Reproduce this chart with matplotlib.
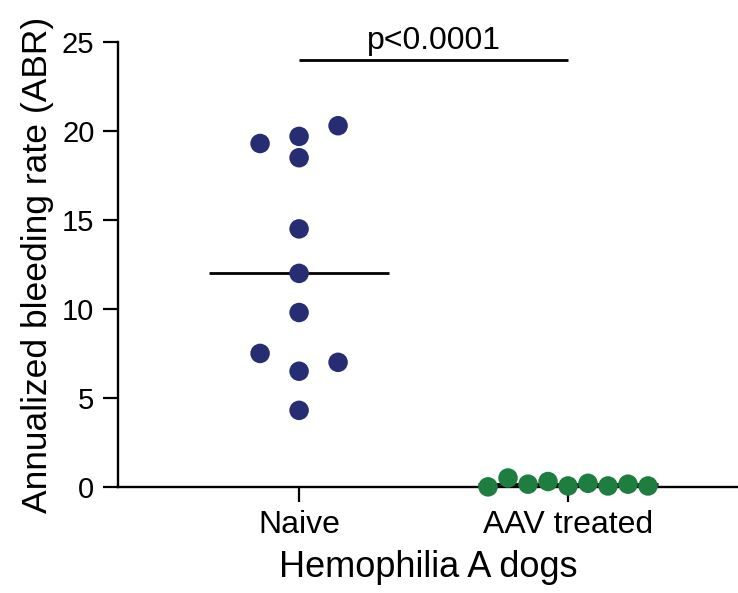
import numpy as np
import matplotlib
matplotlib.use("Agg")
import matplotlib.pyplot as plt

plt.rcParams['font.family'] = ['Liberation Sans', 'DejaVu Sans']

groups = ['Naive', 'AAV treated']
naive_abr = [19.7, 20.3, 19.3, 18.5, 14.5, 12.0, 9.8, 6.5, 7.0, 7.5, 4.3]
aav_abr = [0.05, 0.2, 0.3, 0.05, 0.15, 0.15, 0.5, 0.05, 0.0]
p_text = 'p<0.0001'

colors = ['#272D73', '#1E7E3F']
slot_px = [39, 20]      # horizontal step of the swarm, pixels
marker_d = 19.5         # marker diameter, pixels

fig = plt.figure(figsize=(7.38, 5.93), dpi=100)
ax = fig.add_axes([0.160, 0.179, 0.840, 0.750])
ax.set_xlim(-0.673, 1.632)
ax.set_ylim(0, 25)


def swarm(xc, vals, step):
    # place points one by one in slots 0, +1, -1, +2, -2 ... avoiding overlap
    to_px = ax.transData
    x0 = to_px.transform((xc, 0))[0]
    placed = []
    xs = []
    order = [0]
    for i in range(1, 20):
        order += [i, -i]
    for v in vals:
        ypx = to_px.transform((xc, v))[1]
        for k in order:
            xpx = x0 + k * step
            if all(np.hypot(xpx - px, ypx - py) >= 19 for px, py in placed):
                break
        placed.append((xpx, ypx))
        xs.append(to_px.inverted().transform((xpx, ypx))[0])
    return xs


for i, vals in enumerate([naive_abr, aav_abr]):
    xs = swarm(i, vals, slot_px[i])
    ax.scatter(xs, vals, s=(marker_d * 72 / 100) ** 2, color=colors[i],
               edgecolors='none', zorder=3, clip_on=False)
    med = np.median(vals)
    ax.plot([i - 0.335, i + 0.335], [med, med], color='black', lw=2.0,
            zorder=2, solid_capstyle='butt', clip_on=False)

# significance bar
ax.plot([0, 1], [24.0, 24.0], color='black', lw=2.0, clip_on=False,
        solid_capstyle='butt')
ax.text(0.5, 24.6, p_text, ha='center', va='baseline', fontsize=23)

ax.spines['top'].set_visible(False)
ax.spines['right'].set_visible(False)
ax.spines['left'].set_linewidth(1.7)
ax.spines['bottom'].set_linewidth(1.7)
ax.set_yticks([0, 5, 10, 15, 20, 25])
ax.set_xticks([0, 1])
ax.set_xticklabels(groups)
ax.tick_params(axis='y', length=11, width=1.6, pad=6, labelsize=21)
ax.tick_params(axis='x', length=11, width=1.6, pad=6, labelsize=23)
ax.set_ylabel('Annualized bleeding rate (ABR)', fontsize=25.5, labelpad=6)
ax.set_xlabel('Hemophilia A dogs', fontsize=26, labelpad=7)

fig.savefig('out.png', dpi=100)
